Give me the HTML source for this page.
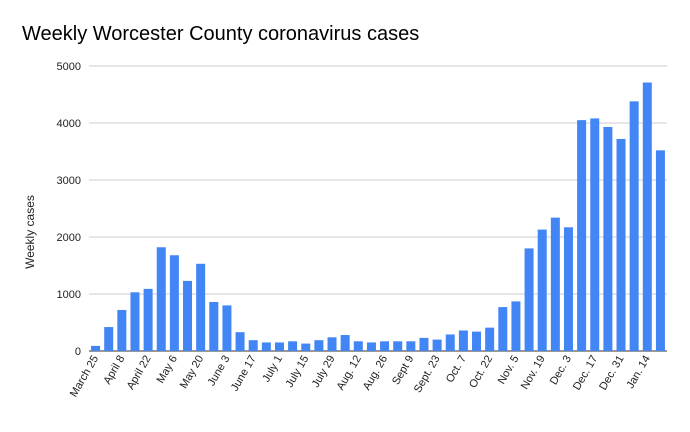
<!DOCTYPE html>
<html><head><meta charset="utf-8"><style>
body{margin:0;background:#fff;font-family:"Liberation Sans",Arial,sans-serif}
</style></head><body>
<svg id="chart" width="690" height="427" viewBox="0 0 690 427" xmlns="http://www.w3.org/2000/svg">
<rect width="690" height="427" fill="#fff"/>
<text x="22" y="40" font-size="20" fill="#000">Weekly Worcester County coronavirus cases</text>
<text transform="translate(34,232) rotate(-90)" text-anchor="middle" font-size="12" fill="#222">Weekly cases</text>
<g id="grid"></g><g id="bars"></g><g id="xlabels"></g>
</svg>
<script>
const categories=["March 25","April 1","April 8","April 15","April 22","April 29","May 6","May 13","May 20","May 27","June 3","June 10","June 17","June 24","July 1","July 8","July 15","July 22","July 29","Aug. 5","Aug. 12","Aug. 19","Aug. 26","Sept. 2","Sept 9","Sept. 16","Sept. 23","Sept. 30","Oct. 7","Oct. 14","Oct. 22","Oct. 28","Nov. 5","Nov. 12","Nov. 19","Nov. 26","Dec. 3","Dec. 10","Dec. 17","Dec. 24","Dec. 31","Jan. 7","Jan. 14","Jan. 21"];
const cases=[90,420,720,1030,1090,1820,1680,1230,1530,860,800,330,190,150,150,170,130,190,240,280,170,150,170,170,170,230,200,290,360,340,410,770,870,1800,2130,2340,2170,4050,4080,4930-1000,3720,4380,4710,3520];
const yTicks=[0,1000,2000,3000,4000,5000];
const x0=89,x1=667,yTop=66,yBot=351,yMax=5000;
const ns="http://www.w3.org/2000/svg";
const band=(x1-x0)/categories.length;
const xs=i=>x0+band*(i+0.5);
const ys=v=>yBot-(v/yMax)*(yBot-yTop);
const grid=document.getElementById('grid');
yTicks.forEach(t=>{
  const l=document.createElementNS(ns,'line');
  
  
  l.setAttribute('x1',x0);l.setAttribute('x2',x1);
  l.setAttribute('y1',ys(t));l.setAttribute('y2',ys(t));
  l.setAttribute('stroke',t===0?'#333':'#ccc');l.setAttribute('stroke-width','1');
  grid.appendChild(l);
  const tx=document.createElementNS(ns,'text');
  
  
  tx.setAttribute('x',81);tx.setAttribute('y',ys(t)+4);
  tx.setAttribute('text-anchor','end');tx.setAttribute('font-size','11');tx.setAttribute('fill','#222');
  tx.textContent=t;grid.appendChild(tx);
});
const bars=document.getElementById('bars'),xl=document.getElementById('xlabels');
cases.forEach((v,i)=>{
  const r=document.createElementNS(ns,'rect');
  
  
  r.setAttribute('x',xs(i)-4.5);r.setAttribute('width',9);
  r.setAttribute('y',ys(v));r.setAttribute('height',yBot-ys(v));
  r.setAttribute('fill','#4285f4');
  bars.appendChild(r);
  if(i%2===0){
    const t=document.createElementNS(ns,'text');
    
    
    t.setAttribute('transform','translate('+(xs(i)+3)+',358) rotate(-60)');
    t.setAttribute('text-anchor','end');t.setAttribute('font-size','11');t.setAttribute('fill','#222');
    t.textContent=categories[i];xl.appendChild(t);
  }
});
</script>
</body></html>
